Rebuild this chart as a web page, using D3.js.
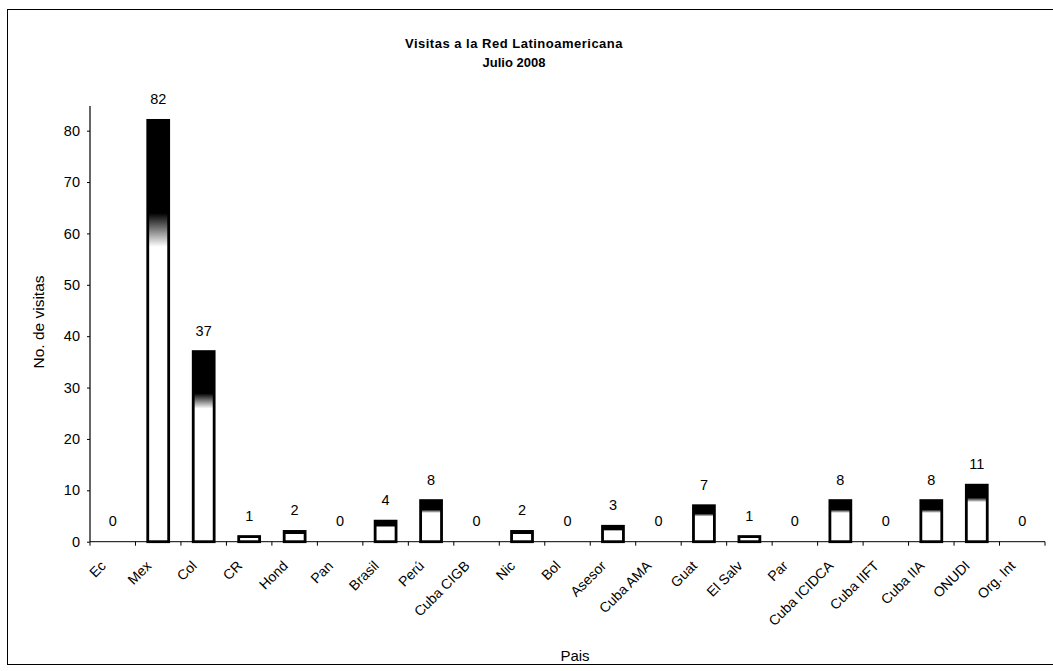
<!DOCTYPE html>
<html>
<head>
<meta charset="utf-8">
<script src="https://cdn.jsdelivr.net/npm/d3@7"></script>
<style>
  html, body { margin: 0; padding: 0; background: #fff; }
  svg { display: block; font-family: "Liberation Sans", Arial, sans-serif; }
</style>
</head>
<body>
<svg id="chart" width="1053" height="671"></svg>
<script>
const categories = ["Ec", "Mex", "Col", "CR", "Hond", "Pan", "Brasil", "Perú", "Cuba CIGB", "Nic", "Bol", "Asesor", "Cuba AMA", "Guat", "El Salv", "Par", "Cuba ICIDCA", "Cuba IIFT", "Cuba IIA", "ONUDI", "Org. Int"];
const visits = [0, 82, 37, 1, 2, 0, 4, 8, 0, 2, 0, 3, 0, 7, 1, 0, 8, 0, 8, 11, 0];
const yTicks = [0, 10, 20, 30, 40, 50, 60, 70, 80];
const titleLines = ["Visitas a la Red Latinoamericana", "Julio 2008"];
const yTitle = "No. de visitas";
const xTitle = "Pais";

(function () {
const data = categories.map((c, i) => ({ cat: c, value: visits[i] }));

const svg = d3.select("#chart");
const plotLeft = 90, plotRight = 1045, plotTop = 106, plotBottom = 541.7;

// outer frame
svg.append("rect")
  .attr("x", 7.5).attr("y", 9.5)
  .attr("width", 1060).attr("height", 655)
  .attr("fill", "none").attr("stroke", "#000").attr("stroke-width", 1);

// gradient for bars: dark top fading to white
const defs = svg.append("defs");
const grad = defs.append("linearGradient")
  .attr("id", "barGrad").attr("x1", 0).attr("y1", 0).attr("x2", 0).attr("y2", 1);
grad.append("stop").attr("offset", "0").attr("stop-color", "#000");
grad.append("stop").attr("offset", "0.22").attr("stop-color", "#000");
grad.append("stop").attr("offset", "0.3").attr("stop-color", "#fff");
grad.append("stop").attr("offset", "1").attr("stop-color", "#fff");

const x = d3.scaleBand().domain(categories).range([plotLeft, plotRight]).paddingInner(0.54).paddingOuter(0.27);
const xEdge = d3.scaleLinear().domain([0, categories.length]).range([plotLeft, plotRight]);
const y = d3.scaleLinear().domain([0, 84.8]).range([plotBottom, plotTop]);

// title
svg.append("text").attr("x", 514).attr("y", 48)
  .attr("text-anchor", "middle").attr("font-size", 13).attr("font-weight", "bold")
  .attr("letter-spacing", 0.5)
  .text(titleLines[0]);
svg.append("text").attr("x", 514).attr("y", 67)
  .attr("text-anchor", "middle").attr("font-size", 13).attr("font-weight", "bold")
  .text(titleLines[1]);

// y axis
const yAxis = d3.axisLeft(y).tickValues(yTicks).tickSize(3).tickPadding(7);
const gy = svg.append("g").attr("transform", `translate(${plotLeft},0)`).call(yAxis);
gy.select(".domain").attr("d", `M0,${plotTop}V${plotBottom}`).attr("stroke", "#000").attr("stroke-width", 1.2);
gy.selectAll("text").attr("font-size", 14.5).attr("font-family", "Liberation Sans, Arial, sans-serif").attr("fill", "#000");

// x axis line + ticks at category boundaries
svg.append("line").attr("x1", plotLeft).attr("x2", plotRight).attr("y1", plotBottom).attr("y2", plotBottom)
  .attr("stroke", "#000").attr("stroke-width", 1);
svg.append("g").selectAll("line").data(d3.range(categories.length + 1)).join("line")
  .attr("x1", d => xEdge(d)).attr("x2", d => xEdge(d))
  .attr("y1", plotBottom).attr("y2", plotBottom + 4)
  .attr("stroke", "#000").attr("stroke-width", 1);

// bars
svg.append("g").selectAll("rect").data(data.filter(d => d.value > 0)).join("rect")
  .attr("x", d => x(d.cat))
  .attr("y", d => y(d.value))
  .attr("width", x.bandwidth())
  .attr("height", d => y(0) - y(d.value))
  .attr("fill", "url(#barGrad)")
  .attr("stroke", "#000").attr("stroke-width", 2.8);

// value labels
svg.append("g").selectAll("text").data(data).join("text")
  .attr("x", d => x(d.cat) + x.bandwidth() / 2)
  .attr("y", d => y(d.value) - 16)
  .attr("text-anchor", "middle").attr("font-size", 14.5)
  .text(d => d.value);

// x category labels
svg.append("g").selectAll("text").data(categories).join("text")
  .attr("transform", d => `translate(${x(d) + x.bandwidth() / 2 - 6},${plotBottom + 25}) rotate(-45)`)
  .attr("text-anchor", "end").attr("font-size", 14)
  .text(d => d);

// axis titles
svg.append("text")
  .attr("transform", `translate(44,${322}) rotate(-90)`)
  .attr("text-anchor", "middle").attr("font-size", 15.5)
  .text(yTitle);
svg.append("text").attr("x", 575).attr("y", 661)
  .attr("text-anchor", "middle").attr("font-size", 15)
  .text(xTitle);
})();
</script>
</body>
</html>
